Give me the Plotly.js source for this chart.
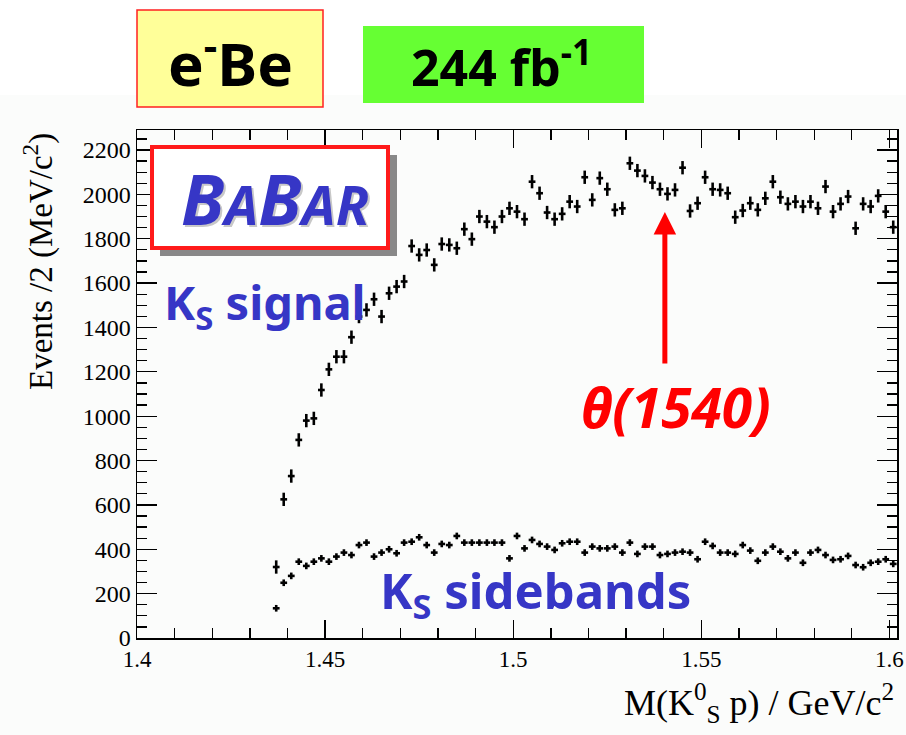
<!DOCTYPE html>
<html>
<head>
<meta charset="utf-8">
<script src="https://cdn.plot.ly/plotly-3.0.1.min.js"></script>
<style>html,body{margin:0;padding:0;background:#fff;}#chart{width:906px;height:735px;}</style>
</head>
<body>
<div id="chart"></div>
<script>
// Bin centres of M(K0S p) in GeV/c^2 (2 MeV bins)
const massBins = [
1.437,1.439,1.441,1.443,1.445,1.447,1.449,1.451,1.453,1.455,
1.457,1.459,1.461,1.463,1.465,1.467,1.469,1.471,1.473,1.475,
1.477,1.479,1.481,1.483,1.485,1.487,1.489,1.491,1.493,1.495,
1.497,1.499,1.501,1.503,1.505,1.507,1.509,1.511,1.513,1.515,
1.517,1.519,1.521,1.523,1.525,1.527,1.529,1.531,1.533,1.535,
1.537,1.539,1.541,1.543,1.545,1.547,1.549,1.551,1.553,1.555,
1.557,1.559,1.561,1.563,1.565,1.567,1.569,1.571,1.573,1.575,
1.577,1.579,1.581,1.583,1.585,1.587,1.589,1.591,1.593,1.595,
1.597,1.599,1.601];

// KS signal region, events / 2 MeV
const signalCounts = [
320,625,730,893,980,990,1118,1211,1268,1268,
1356,1449,1479,1527,1449,1554,1584,1607,1767,1727,
1749,1682,1776,1772,1757,1843,1798,1900,1877,1852,
1900,1937,1922,1888,2057,2005,1918,1888,1912,1967,
1945,2077,1975,2073,2023,1930,1937,2140,2107,2083,
2053,2023,2002,2020,2120,1925,1960,2077,2023,2020,
2005,1897,1927,1960,1930,1982,2057,1987,1957,1967,
1945,1967,1937,2035,1922,1957,1990,1847,1957,1945,
1993,1922,1852];

// KS sidebands, events / 2 MeV
const sidebandCounts = [
134,249,280,344,325,344,359,344,367,385,
374,419,430,367,385,400,382,430,434,454,
419,385,424,419,460,430,430,430,430,430,
430,359,460,404,442,424,412,397,427,434,
434,385,412,404,404,412,385,430,379,412,
412,374,379,385,389,385,355,434,415,385,
385,379,419,394,348,385,412,389,359,385,
339,385,397,374,352,355,370,329,319,339,
344,355,334];

const signalErr = 30;
const sidebandErr = 15;
const binHalfWidth = 0.0009;

const xTickVals = [1.4, 1.45, 1.5, 1.55, 1.6];
const xTickText = ['1.4', '1.45', '1.5', '1.55', '1.6'];
const yTickVals = [0,200,400,600,800,1000,1200,1400,1600,1800,2000,2200];

// layout helpers: pixel -> paper coords (plot area 137..897 x 130..638)
const L = 137, R = 897, T = 130, B = 638;
const px = x => (x - L) / (R - L);
const py = y => (B - y) / (B - T);

const blue = '#3636c6';
const fun = '"Comic Sans MS", "Noto Sans", sans-serif';
const serif = '"Liberation Serif", "Times New Roman", serif';

function crossTrace(y, err, name) {
  return {
    type: 'scatter', mode: 'markers', name: name,
    x: massBins, y: y,
    marker: {size: 2, color: '#000'},
    error_y: {type: 'constant', value: err, color: '#000', thickness: 2.6, width: 0},
    error_x: {type: 'constant', value: binHalfWidth, color: '#000', thickness: 2.6, width: 0},
    hoverinfo: 'x+y', showlegend: false
  };
}

const data = [crossTrace(signalCounts, signalErr, 'KS signal'), crossTrace(sidebandCounts, sidebandErr, 'KS sidebands')];

const shapes = [
  // faint background below the title boxes
  {type:'rect', xref:'paper', yref:'paper', x0:px(0), x1:px(906), y0:py(735), y1:py(95), fillcolor:'#fbfcfb', line:{width:0}, layer:'below'},
  // e-Be box
  {type:'rect', xref:'paper', yref:'paper', x0:px(137), x1:px(323), y0:py(107), y1:py(10), fillcolor:'#ffff99', line:{color:'#ff2020', width:1.5}},
  // luminosity box
  {type:'rect', xref:'paper', yref:'paper', x0:px(363), x1:px(644), y0:py(103), y1:py(26), fillcolor:'#66ff33', line:{width:0}},
  // BABAR shadow
  {type:'rect', xref:'paper', yref:'paper', x0:px(160), x1:px(397), y0:py(256), y1:py(155), fillcolor:'#888888', line:{width:0}},
  // BABAR box
  {type:'rect', xref:'paper', yref:'paper', x0:px(152), x1:px(388), y0:py(248), y1:py(147), fillcolor:'#ffffff', line:{color:'#ff1a1a', width:4}}
];

function note(x, y, text, font, extra) {
  return Object.assign({xref:'paper', yref:'paper', x:px(x), y:py(y), xanchor:'center', yanchor:'middle', text:text, showarrow:false, font:font}, extra || {});
}

const babar = '<b><i>B<span style="font-size:54px">A</span>B<span style="font-size:54px">AR</span></i></b>';

const annotations = [
  note(230, 60, '<b>e<sup>-</sup>Be</b>', {family:fun, size:60, color:'#000'}),
  note(501, 64, '<b>244 fb<sup>-1</sup></b>', {family:fun, size:50, color:'#000'}),
  note(277, 200, babar, {family:fun, size:70, color:'#c8c8c8'}),
  note(275, 198, babar, {family:fun, size:70, color:blue}),
  note(265, 305, '<b>K<sub>S</sub> signal</b>', {family:fun, size:47, color:blue}),
  note(535, 593, '<b>K<sub>S</sub> sidebands</b>', {family:fun, size:49, color:blue}),
  note(676, 407, '<b><i>θ(1540)</i></b>', {family:fun, size:55, color:'#ff0000'}),
  // arrow pointing at the Theta+ mass
  {xref:'x', yref:'y', x:1.5403, y:1920, ax:0, ay:153, text:'', showarrow:true, arrowhead:2, arrowsize:0.9, arrowwidth:5, arrowcolor:'#ff0000'},
  // axis titles
  note(896, 703, 'M(K<sup>0</sup><sub>S</sub> p) / GeV/c<sup>2</sup>', {family:serif, size:36, color:'#000'}, {xanchor:'right'}),
  note(38, 262, 'Events /2 (MeV/c<sup>2</sup>)', {family:serif, size:33, color:'#000'}, {textangle:-90})
];

const layout = {
  width: 906, height: 735,
  margin: {l: L, r: 906 - R, t: T, b: 735 - B, pad: 0},
  paper_bgcolor: '#ffffff',
  plot_bgcolor: '#fbfcfb',
  showlegend: false,
  xaxis: {
    range: [1.4, 1.602], tickmode: 'array', tickvals: xTickVals, ticktext: xTickText,
    ticks: 'inside', ticklen: 18, tickwidth: 1.3, tickcolor: '#000',
    minor: {dtick: 0.01, tick0: 1.4, ticks: 'inside', ticklen: 10, tickwidth: 1.3, tickcolor: '#000', showgrid: false},
    showline: true, linecolor: '#000', linewidth: 1.5, mirror: 'ticks',
    showgrid: false, zeroline: false,
    tickfont: {family: serif, size: 23, color: '#000'}
  },
  yaxis: {
    range: [0, 2290], tickmode: 'array', tickvals: yTickVals,
    ticks: 'inside', ticklen: 20, tickwidth: 1.3, tickcolor: '#000',
    minor: {dtick: 50, tick0: 0, ticks: 'inside', ticklen: 10, tickwidth: 1.3, tickcolor: '#000', showgrid: false},
    showline: true, linecolor: '#000', linewidth: 1.5, mirror: 'ticks',
    showgrid: false, zeroline: false,
    tickfont: {family: serif, size: 24, color: '#000'}
  },
  shapes: shapes,
  annotations: annotations
};

Plotly.newPlot('chart', data, layout, {displayModeBar: false, staticPlot: true});
</script>
</body>
</html>
